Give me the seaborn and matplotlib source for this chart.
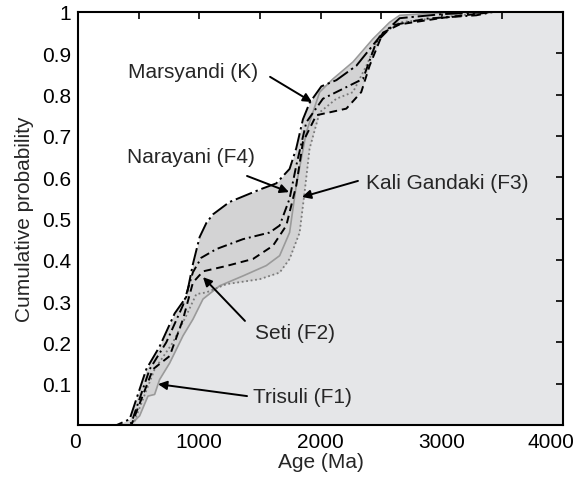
import matplotlib
import numpy as np
import seaborn as sns

matplotlib.use("Agg")
import matplotlib.pyplot as plt
from matplotlib.ticker import FixedLocator, NullFormatter
from matplotlib.transforms import ScaledTranslation

marsyandi_age = [0, 320, 426, 563, 673, 797, 893, 948, 1003, 1060, 1113, 1250, 1498, 1635, 1745, 1800,
                 1855, 1910, 2007, 2131, 2296, 2488, 2653, 3010, 3422, 4000]
marsyandi_p = [0, 0, 0.014, 0.135, 0.19, 0.27, 0.31, 0.39, 0.455, 0.49, 0.51, 0.54, 0.57, 0.585, 0.62, 0.67,
               0.74, 0.78, 0.82, 0.835, 0.87, 0.94, 0.985, 0.995, 1.0, 1.0]

narayani_age = [0, 400, 440, 591, 728, 866, 948, 1017, 1141, 1361, 1580, 1663, 1745, 1800, 1883,
                2020, 2185, 2350, 2460, 2598, 2873, 3285, 3422, 4000]
narayani_p = [0, 0, 0.005, 0.135, 0.2, 0.29, 0.37, 0.405, 0.426, 0.45, 0.466, 0.483, 0.548, 0.628, 0.733,
              0.79, 0.814, 0.838, 0.927, 0.968, 0.984, 0.992, 1.0, 1.0]

seti_age = [0, 440, 618, 756, 866, 948, 1031, 1223, 1443, 1608, 1718, 1800, 1855, 1965, 2075,
            2213, 2336, 2405, 2515, 2653, 3010, 3422, 4000]
seti_p = [0, 0, 0.135, 0.167, 0.256, 0.345, 0.372, 0.385, 0.402, 0.434, 0.483, 0.58, 0.685, 0.75, 0.757,
          0.766, 0.806, 0.87, 0.95, 0.97, 0.986, 1.0, 1.0]

kali_age = [0, 453, 632, 783, 893, 976, 1058, 1223, 1498, 1663, 1745, 1828, 1869, 1910, 1993,
            2131, 2268, 2378, 2488, 2653, 3147, 3422, 4000]
kali_p = [0, 0, 0.135, 0.2, 0.265, 0.317, 0.321, 0.341, 0.353, 0.369, 0.402, 0.466, 0.564, 0.669, 0.757,
          0.79, 0.806, 0.87, 0.942, 0.975, 0.992, 1.0, 1.0]

trisuli_age = [0, 426, 508, 577, 632, 673, 756, 866, 948, 1031, 1168, 1361, 1553, 1663, 1745, 1800,
               1883, 1993, 2103, 2268, 2433, 2570, 2653, 2873, 3147, 4000]
trisuli_p = [0, 0, 0.022, 0.07, 0.074, 0.11, 0.15, 0.216, 0.256, 0.305, 0.337, 0.361, 0.386, 0.41, 0.466,
             0.58, 0.709, 0.806, 0.838, 0.879, 0.935, 0.975, 0.992, 0.996, 1.0, 1.0]

curves = [
    (trisuli_age, trisuli_p, "#9a9a9a", "-", 1.2),
    (kali_age, kali_p, "#7a7a7a", (0, (1, 1.5)), 1.3),
    (seti_age, seti_p, "black", (0, (4, 2.5)), 1.4),
    (narayani_age, narayani_p, "black", (0, (5, 2, 1, 2)), 1.4),
    (marsyandi_age, marsyandi_p, "black", (0, (9, 2, 1.2, 2)), 1.4),
]

labels = ["Marsyandi (K)", "Narayani (F4)", "Kali Gandaki (F3)", "Seti (F2)", "Trisuli (F1)"]
label_pos = [(412, 0.855), (404, 0.649), (2375, 0.588), (1460, 0.225), (1443, 0.07)]
arrow_tail = [(1584, 0.843), (1394, 0.603), (2309, 0.591), (1377, 0.252), (1394, 0.07)]
arrow_head = [(1930, 0.782), (1740, 0.564), (1847, 0.552), (1031, 0.358), (660, 0.099)]

sns.set_theme(style="white")
plt.rcParams["font.family"] = ["Liberation Sans", "DejaVu Sans"]

fig = plt.figure(figsize=(5.77, 4.81), dpi=100)
ax = fig.add_axes([78 / 577, 55 / 481, 485 / 577, 413 / 481])

# envelope shading: light grey under the lowest curve, darker band between curves
grid = np.unique(np.concatenate([c[0] for c in curves]))
stack = np.vstack([np.interp(grid, c[0], c[1]) for c in curves])
lo, hi = stack.min(axis=0), stack.max(axis=0)
ax.fill_between(grid, 0, lo, color="#e5e6e8", lw=0, zorder=0)
ax.fill_between(grid, lo, hi, color="#d3d3d4", lw=0, zorder=0)

for age, p, color, ls, lw in curves:
    sns.lineplot(x=age, y=p, ax=ax, color=color, linestyle=ls, linewidth=lw,
                 sort=False, estimator=None, zorder=2)

for text, pos, tail, head in zip(labels, label_pos, arrow_tail, arrow_head):
    ax.text(pos[0], pos[1], text, fontsize=15, ha="left", va="center", zorder=4)
    ax.annotate("", xy=head, xytext=tail,
                arrowprops=dict(arrowstyle="-|>", color="black", lw=1.4,
                                mutation_scale=13, shrinkA=0, shrinkB=0), zorder=4)

ax.set_xlim(0, 4000)
ax.set_ylim(0, 1)
ax.set_xticks([0, 1000, 2000, 3000, 4000])
ax.xaxis.set_minor_locator(FixedLocator([500, 1500, 2500, 3500]))
ax.set_yticks(np.round(np.arange(0.1, 1.01, 0.1), 1))
ax.set_yticklabels(["0.1", "0.2", "0.3", "0.4", "0.5", "0.6", "0.7", "0.8", "0.9", "1"])
ax.tick_params(which="both", direction="in", length=5, width=1.2, top=True, right=True,
               labelsize=15, colors="black", pad=5)
ax.xaxis.set_minor_formatter(NullFormatter())
ax.set_xlabel("Age (Ma)", fontsize=15, labelpad=1)
ax.set_ylabel("Cumulative probability", fontsize=15, labelpad=6)
for sp in ax.spines.values():
    sp.set_color("black")
    sp.set_linewidth(1.5)
    sp.set_zorder(5)

# end labels sit a little inside, as in the cropped original
xlabels = ax.get_xticklabels()
xlabels[0].set_transform(xlabels[0].get_transform() + ScaledTranslation(-0.03, 0, fig.dpi_scale_trans))
xlabels[-1].set_transform(xlabels[-1].get_transform() + ScaledTranslation(-0.12, 0, fig.dpi_scale_trans))

fig.savefig("out.png", dpi=100, facecolor="white")
